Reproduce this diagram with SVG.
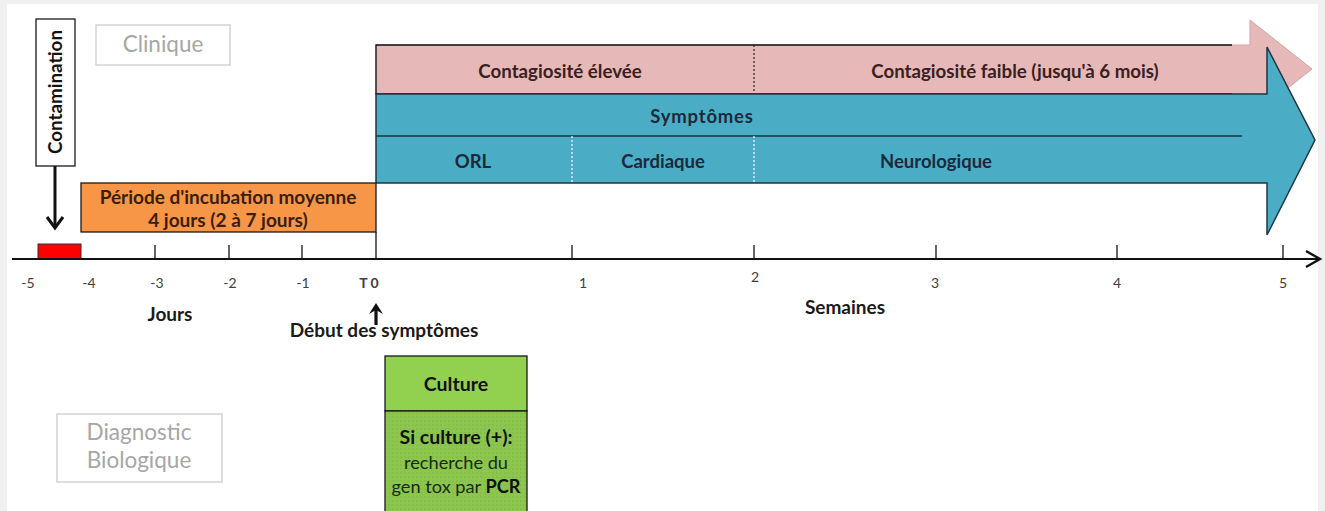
<svg xmlns="http://www.w3.org/2000/svg" width="1325" height="511" viewBox="0 0 1325 511">
<style>
  text { font-family: Lato, "Open Sans", "Liberation Sans", sans-serif; }
  .b { font-weight: bold; }
  .pink { fill: #3a2020; font-size: 18.7px; font-weight: bold; }
  .blue { fill: #1b2a3a; font-size: 18.5px; font-weight: bold; }
  .tick { fill: #404040; font-size: 14px; }
  .axis { fill: #1a1a1a; font-size: 19px; font-weight: bold; }
  .gray { fill: #a6a6a6; }
  .ln { stroke: #111; stroke-width: 1.3; fill: none; }
</style>
<defs>
  <pattern id="dots" width="4" height="4" patternUnits="userSpaceOnUse">
    <rect width="4" height="4" fill="#8cc64f"/>
    <circle cx="1" cy="1" r="0.6" fill="#6fa83a"/>
  </pattern>
</defs>
<rect width="1325" height="511" fill="#f0f0f0"/>
<rect x="7" y="4" width="1311" height="507" fill="#ffffff"/>

<g id="clinique">
  <rect x="96" y="25" width="134" height="40" fill="#fff" stroke="#cccccc" stroke-width="1.3"/>
  <text x="163" y="52" text-anchor="middle" font-size="22.5" class="gray">Clinique</text>
</g>

<g id="diagnostic">
  <rect x="57" y="414" width="165" height="68" fill="#fff" stroke="#cccccc" stroke-width="1.3"/>
  <text x="139" y="440" text-anchor="middle" font-size="22.5" class="gray">Diagnostic</text>
  <text x="139" y="468" text-anchor="middle" font-size="22.5" class="gray">Biologique</text>
</g>

<g id="contagiosite">
  <polygon points="376,45 1250,45 1250,20 1312,69 1250,118 1250,94 376,94" fill="#e6b9b8" stroke="#d4a3a2" stroke-width="1"/>
  <polyline points="1232,45 376,45 376,94 1232,94" class="ln"/>
  <line x1="754" y1="45" x2="754" y2="94" stroke="#222" stroke-width="1.2" stroke-dasharray="2,2"/>
  <text x="560" y="78" text-anchor="middle" class="pink">Contagiosité élevée</text>
  <text x="1015" y="78" text-anchor="middle" class="pink">Contagiosité faible (jusqu'à 6 mois)</text>
</g>

<g id="symptomes">
  <polygon points="376,94 1267,94 1267,47 1315,140 1267,235 1267,183 376,183" fill="#4bacc6" stroke="#1e3644" stroke-width="1.5" stroke-linejoin="miter"/>
  <line x1="376" y1="136" x2="1242" y2="136" stroke="#1e3644" stroke-width="1.3"/>
  <line x1="572" y1="136" x2="572" y2="183" stroke="#ffffff" stroke-width="1.2" stroke-dasharray="2,2"/>
  <line x1="754" y1="136" x2="754" y2="183" stroke="#ffffff" stroke-width="1.2" stroke-dasharray="2,2"/>
  <text x="702" y="123" text-anchor="middle" class="blue" font-size="17.5" letter-spacing="0.8">Symptômes</text>
  <text x="473" y="168" text-anchor="middle" class="blue" font-size="12.5">ORL</text>
  <text x="663" y="168" text-anchor="middle" class="blue">Cardiaque</text>
  <text x="936" y="168" text-anchor="middle" class="blue" font-size="19">Neurologique</text>
</g>

<g id="incubation">
  <rect x="81" y="183" width="295" height="49" fill="#f79646" stroke="#1a1a1a" stroke-width="1.3"/>
  <text x="228" y="204" text-anchor="middle" class="b" font-size="19" fill="#3a1e0a">Période d'incubation moyenne</text>
  <text x="228" y="227" text-anchor="middle" class="b" font-size="19" fill="#3a1e0a">4 jours (2 à 7 jours)</text>
</g>

<g id="contamination">
  <rect x="36" y="19" width="39" height="147" fill="#fff" stroke="#1a1a1a" stroke-width="1.3"/>
  <text transform="translate(62,92) rotate(-90)" text-anchor="middle" class="b" font-size="18.8" fill="#111">Contamination</text>
</g>

<g id="contamination-period">
  <rect x="38" y="244" width="43" height="15" fill="#ff0000" stroke="#333" stroke-width="1"/>
</g>

<g id="culture">
  <rect x="385" y="356" width="142" height="55" fill="#92d050" stroke="#1a1a1a" stroke-width="1.3"/>
  <rect x="385" y="411" width="142" height="110" fill="url(#dots)" stroke="#1a1a1a" stroke-width="1.3"/>
  <text x="456" y="391" text-anchor="middle" class="b" font-size="19.5" fill="#111">Culture</text>
  <text x="456" y="444" text-anchor="middle" class="b" font-size="19.5" fill="#111">Si culture (+):</text>
  <text x="456" y="469" text-anchor="middle" font-size="18.2" fill="#1a2a10">recherche du</text>
  <text x="456" y="493" text-anchor="middle" font-size="18.2" fill="#1a2a10">gen tox par <tspan class="b" fill="#111">PCR</tspan></text>
</g>

<g id="connectors">
  <line x1="12" y1="259" x2="1319" y2="259" stroke="#111" stroke-width="2.2"/>
  <polyline points="1306,251 1320,259 1306,267" fill="none" stroke="#111" stroke-width="2.4"/>
  <g stroke="#111" stroke-width="1.3">
    <line x1="155" y1="245" x2="155" y2="259"/>
    <line x1="229" y1="245" x2="229" y2="259"/>
    <line x1="302" y1="245" x2="302" y2="259"/>
    <line x1="376" y1="232" x2="376" y2="259"/>
    <line x1="572" y1="245" x2="572" y2="259"/>
    <line x1="754" y1="245" x2="754" y2="259"/>
    <line x1="936" y1="245" x2="936" y2="259"/>
    <line x1="1117" y1="245" x2="1117" y2="259"/>
    <line x1="1283" y1="245" x2="1283" y2="259"/>
  </g>
  <line x1="55" y1="166" x2="55" y2="227" stroke="#111" stroke-width="3"/>
  <polyline points="47,217 55,228 63,217" fill="none" stroke="#111" stroke-width="3"/>
  <line x1="376" y1="325" x2="376" y2="307" stroke="#111" stroke-width="3.2"/>
  <polygon points="369,314 376,303 383,314 376,310" fill="#111"/>
</g>

<g id="axis-labels">
  <text x="28" y="288" text-anchor="middle" class="tick">-5</text>
  <text x="89" y="288" text-anchor="middle" class="tick">-4</text>
  <text x="157" y="288" text-anchor="middle" class="tick">-3</text>
  <text x="230" y="288" text-anchor="middle" class="tick">-2</text>
  <text x="303" y="288" text-anchor="middle" class="tick">-1</text>
  <text x="369" y="288" text-anchor="middle" class="tick" font-weight="bold" fill="#222" font-size="15">T 0</text>
  <text x="583" y="288" text-anchor="middle" class="tick">1</text>
  <text x="755" y="282" text-anchor="middle" class="tick">2</text>
  <text x="935" y="288" text-anchor="middle" class="tick">3</text>
  <text x="1117" y="288" text-anchor="middle" class="tick">4</text>
  <text x="1283" y="288" text-anchor="middle" class="tick">5</text>
  <text x="170" y="321" text-anchor="middle" class="axis">Jours</text>
  <text x="845" y="314" text-anchor="middle" class="axis">Semaines</text>
  <text x="384" y="337" text-anchor="middle" class="axis">Début des symptômes</text>
</g>
</svg>
